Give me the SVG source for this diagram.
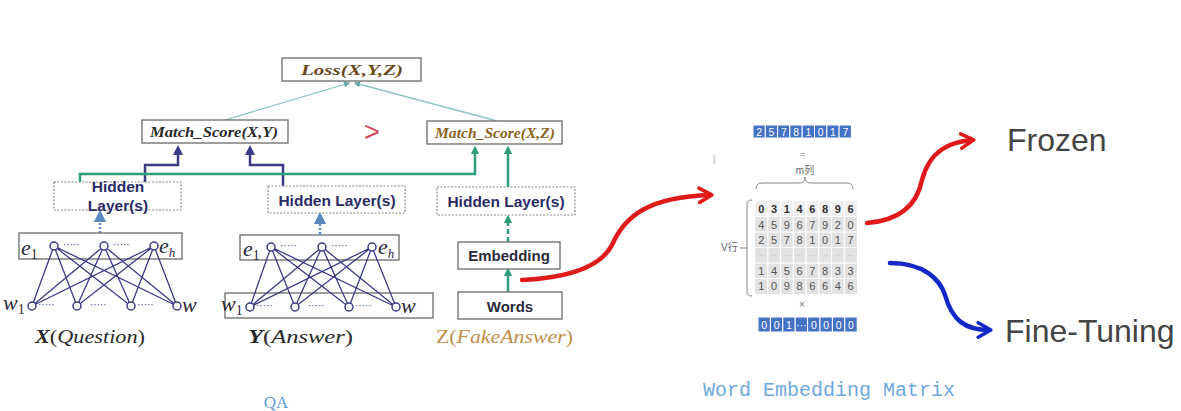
<svg xmlns="http://www.w3.org/2000/svg" width="1181" height="411" viewBox="0 0 1181 411">
<defs>
<style>
.box{fill:#fff;stroke:#6a6a6a;stroke-width:1.3}
.dbox{fill:#fff;stroke:#8a8a8a;stroke-width:1.2;stroke-dasharray:2 1.5}
.ms{font-family:"Liberation Serif",serif;font-weight:bold;font-style:italic;font-size:15px}
.hl{font-family:"Liberation Sans",sans-serif;font-weight:bold;font-size:15.5px;fill:#2b2b66;text-anchor:middle}
.bx{font-family:"Liberation Sans",sans-serif;font-weight:bold;font-size:15px;fill:#2a2a3a;text-anchor:middle}
.math{font-family:"Liberation Serif",serif;font-style:italic;font-size:22px;fill:#2a2a3a}
.lbl{font-family:"Liberation Serif",serif;font-size:19px;fill:#2a2a2a}
.dots{font-family:"Liberation Sans",sans-serif;font-size:10px;fill:#3b3b85}
.net{stroke:#3b3b85;stroke-width:1.3;fill:none}
.nd{fill:#fff;stroke:#3b3b85;stroke-width:1.5}
.pur{stroke:#3b3b85;stroke-width:2.5;fill:none}
.grn{stroke:#2e9e78;stroke-width:2.5;fill:none}
.teal{stroke:#8cc4c4;stroke-width:1.3;fill:none}
.cellb{fill:#4472c4;stroke:#fff;stroke-width:1}
.tw{font-family:"Liberation Sans",sans-serif;font-size:10.5px;fill:#fff;text-anchor:middle}
.tg{font-family:"Liberation Sans",sans-serif;font-size:11px;fill:#555;text-anchor:middle}
.big{font-family:"Liberation Sans",sans-serif;font-size:32px;fill:#444}
</style>
<marker id="ap" viewBox="0 0 10 10" refX="5" refY="5" markerWidth="4" markerHeight="4" orient="auto"><path d="M0,0 L10,5 L0,10 z" fill="#3b3b85"/></marker>
<marker id="ag" viewBox="0 0 10 10" refX="5" refY="5" markerWidth="3.5" markerHeight="3.5" orient="auto"><path d="M0,0 L10,5 L0,10 z" fill="#2e9e78"/></marker>
<marker id="ab" viewBox="0 0 10 10" refX="5" refY="5" markerWidth="5" markerHeight="5" orient="auto"><path d="M0,0 L10,5 L0,10 z" fill="#5a8ac0"/></marker>
<marker id="at" viewBox="0 0 10 10" refX="8" refY="5" markerWidth="5" markerHeight="5" orient="auto"><path d="M0,0 L10,5 L0,10 z" fill="#6aa8a8"/></marker>
<marker id="ar" viewBox="0 0 10 10" refX="7" refY="5" markerWidth="4" markerHeight="4" orient="auto"><path d="M1,1 L8,5 L1,9" fill="none" stroke="#e01a1a" stroke-width="2" stroke-linecap="round" stroke-linejoin="round"/></marker>
<marker id="abl" viewBox="0 0 10 10" refX="7" refY="5" markerWidth="4" markerHeight="4" orient="auto"><path d="M1,1 L8,5 L1,9" fill="none" stroke="#1428c8" stroke-width="2" stroke-linecap="round" stroke-linejoin="round"/></marker>
</defs>
<rect width="1181" height="411" fill="#fff"/>

<g id="connectors">
<line class="teal" x1="225" y1="120" x2="349" y2="83" marker-end="url(#at)"/>
<line class="teal" x1="497" y1="121" x2="355" y2="83" marker-end="url(#at)"/>
<polyline class="pur" points="145,182 145,165 178,165 178,150" marker-end="url(#ap)"/>
<polyline class="pur" points="283,186 283,165 250,165 250,150" marker-end="url(#ap)"/>
<polyline class="grn" points="80,183 80,174 475,174 475,150" marker-end="url(#ag)"/>
<line class="grn" x1="508" y1="187" x2="508" y2="150" marker-end="url(#ag)"/>
<line class="grn" x1="508" y1="242" x2="508" y2="219" stroke-dasharray="5 3" marker-end="url(#ag)"/>
<line class="grn" x1="508" y1="292" x2="508" y2="272" marker-end="url(#ag)"/>
<line x1="100" y1="233" x2="100" y2="216" stroke="#5a8ac0" stroke-width="2.5" stroke-dasharray="2 2" marker-end="url(#ab)"/>
<line x1="320" y1="234" x2="320" y2="218" stroke="#5a8ac0" stroke-width="2.5" stroke-dasharray="2 2" marker-end="url(#ab)"/>
<path d="M522,280 C565,278 600,268 612,245 C625,215 650,197 710,195" fill="none" stroke="#e01a1a" stroke-width="4.5" stroke-linecap="round" marker-end="url(#ar)"/>
<path d="M867,223 C905,220 918,200 922,180 C930,150 950,142 972,140" fill="none" stroke="#e01a1a" stroke-width="4.5" stroke-linecap="round" marker-end="url(#ar)"/>
<path d="M890,263 C925,263 940,280 945,295 C952,320 965,330 989,330" fill="none" stroke="#1428c8" stroke-width="4.5" stroke-linecap="round" marker-end="url(#abl)"/>
</g>

<g id="loss">
<rect class="box" x="282" y="58" width="139" height="23"/>
<text class="ms" x="352" y="75" text-anchor="middle" fill="#6b4a1a" textLength="102" lengthAdjust="spacingAndGlyphs">Loss(X,Y,Z)</text>
</g>
<g id="match-xy">
<rect class="box" x="142" y="120" width="146" height="23"/>
<text class="ms" x="150" y="137" fill="#2a2a2a" textLength="128" lengthAdjust="spacingAndGlyphs">Match_Score(X,Y)</text>
</g>
<g id="gt">
<text x="372" y="141" font-family="Liberation Sans,sans-serif" font-size="27" fill="#cc4a5a" text-anchor="middle">&gt;</text>
</g>
<g id="match-xz">
<rect class="box" x="427" y="121" width="135" height="23"/>
<text class="ms" x="435" y="138" fill="#8a6420" textLength="120" lengthAdjust="spacingAndGlyphs">Match_Score(X,Z)</text>
</g>

<g id="hidden-x">
<rect class="dbox" x="54" y="182" width="127" height="28"/>
<text class="hl" x="118" y="192">Hidden</text>
<text class="hl" x="118" y="211">Layer(s)</text>
</g>
<g id="hidden-y">
<rect class="dbox" x="268" y="186" width="137" height="27"/>
<text class="hl" x="337" y="206">Hidden Layer(s)</text>
</g>
<g id="hidden-z">
<rect class="dbox" x="437" y="187" width="138" height="28"/>
<text class="hl" x="506" y="207">Hidden Layer(s)</text>
</g>
<g id="embedding">
<rect class="box" x="458" y="242" width="102" height="27"/>
<text class="bx" x="509" y="261">Embedding</text>
</g>
<g id="words">
<rect class="box" x="458" y="292" width="104" height="27"/>
<text class="bx" x="510" y="312">Words</text>
</g>

<g id="net-x">
<rect x="19" y="233" width="163" height="26" style="fill:none;stroke:#6a6a6a;stroke-width:1.3"/>
<g class="net">
<path d="M54,246 L32,306 M54,246 L77,306 M54,246 L131,306 M54,246 L177,306 M104,246 L32,306 M104,246 L77,306 M104,246 L131,306 M104,246 L177,306 M154,246 L32,306 M154,246 L77,306 M154,246 L131,306 M154,246 L177,306"/>
</g>
<circle class="nd" cx="54" cy="246" r="4"/><circle class="nd" cx="104" cy="246" r="4"/><circle class="nd" cx="154" cy="246" r="4"/>
<circle class="nd" cx="32" cy="306" r="4"/><circle class="nd" cx="77" cy="306" r="4"/><circle class="nd" cx="131" cy="306" r="4"/><circle class="nd" cx="177" cy="306" r="4"/>
<text class="dots" x="63" y="248">·····</text><text class="dots" x="113" y="248">·····</text>
<text class="dots" x="38" y="308">·····</text><text class="dots" x="90" y="308">·····</text><text class="dots" x="137" y="308">·····</text>
<text class="math" x="21" y="255">e<tspan font-size="14" dy="4" font-style="normal">1</tspan></text>
<text class="math" x="159" y="253">e<tspan font-size="13" dy="4">h</tspan></text>
<text class="math" x="3" y="310">w<tspan font-size="14" dy="4" font-style="normal">1</tspan></text>
<text class="math" x="182" y="312">w</text>
<text class="lbl" x="35" y="343" textLength="110" lengthAdjust="spacingAndGlyphs"><tspan font-weight="bold" font-style="italic">X</tspan>(<tspan font-style="italic">Question</tspan>)</text>
</g>

<g id="net-y">
<rect x="240" y="235" width="159" height="25" style="fill:none;stroke:#6a6a6a;stroke-width:1.3"/>
<rect x="225" y="293" width="208" height="25" style="fill:none;stroke:#6a6a6a;stroke-width:1.3"/>
<g class="net">
<path d="M271,247 L250,307 M271,247 L295,307 M271,247 L349,307 M271,247 L396,307 M322,247 L250,307 M322,247 L295,307 M322,247 L349,307 M322,247 L396,307 M372,247 L250,307 M372,247 L295,307 M372,247 L349,307 M372,247 L396,307"/>
</g>
<circle class="nd" cx="271" cy="247" r="4"/><circle class="nd" cx="322" cy="247" r="4"/><circle class="nd" cx="372" cy="247" r="4"/>
<circle class="nd" cx="250" cy="307" r="4"/><circle class="nd" cx="295" cy="307" r="4"/><circle class="nd" cx="349" cy="307" r="4"/><circle class="nd" cx="396" cy="307" r="4"/>
<text class="dots" x="280" y="249">·····</text><text class="dots" x="331" y="249">·····</text>
<text class="dots" x="256" y="309">·····</text><text class="dots" x="308" y="309">·····</text><text class="dots" x="355" y="309">·····</text>
<text class="math" x="243" y="256">e<tspan font-size="14" dy="4" font-style="normal">1</tspan></text>
<text class="math" x="378" y="254">e<tspan font-size="13" dy="4">h</tspan></text>
<text class="math" x="221" y="311">w<tspan font-size="14" dy="4" font-style="normal">1</tspan></text>
<text class="math" x="401" y="313">w</text>
<text class="lbl" x="248" y="343" textLength="105" lengthAdjust="spacingAndGlyphs"><tspan font-weight="bold" font-style="italic">Y</tspan>(<tspan font-style="italic">Answer</tspan>)</text>
</g>

<g id="label-z">
<text class="lbl" x="436" y="343" style="fill:#c0904a" textLength="137" lengthAdjust="spacingAndGlyphs">Z(<tspan font-style="italic">FakeAnswer</tspan>)</text>
</g>

<g id="label-qa">
<text x="276" y="408" font-family="Liberation Serif,serif" font-size="17" fill="#5b9bd5" text-anchor="middle">QA</text>
</g>

<g id="matrix">
<g id="top-row">
<rect class="cellb" x="753" y="125" width="12.3" height="13"/><rect class="cellb" x="765.3" y="125" width="12.3" height="13"/><rect class="cellb" x="777.6" y="125" width="12.3" height="13"/><rect class="cellb" x="789.9" y="125" width="12.3" height="13"/><rect class="cellb" x="802.2" y="125" width="12.3" height="13"/><rect class="cellb" x="814.5" y="125" width="12.3" height="13"/><rect class="cellb" x="826.8" y="125" width="12.3" height="13"/><rect class="cellb" x="839.1" y="125" width="12.3" height="13"/>
<text class="tw" y="135.5"><tspan x="759.2">2</tspan><tspan x="771.5">5</tspan><tspan x="783.8">7</tspan><tspan x="796.1">8</tspan><tspan x="808.4">1</tspan><tspan x="820.7">0</tspan><tspan x="833">1</tspan><tspan x="845.3">7</tspan></text>
</g>
<text x="803" y="157" font-family="Liberation Sans,sans-serif" font-size="9" fill="#777" text-anchor="middle">=</text>
<text x="805" y="174" font-family="Liberation Sans,'Noto Sans CJK SC',sans-serif" font-size="10" fill="#666" text-anchor="middle">m列</text>
<path d="M756,189 Q756,183 762,183 L799,183 Q805,183 805,177 Q805,183 811,183 L847,183 Q853,183 853,189" fill="none" stroke="#888" stroke-width="1"/>
<text x="713" y="162" font-family="Liberation Sans,sans-serif" font-size="9" fill="#aaa">|</text>
<path d="M752,200 Q747,200 747,204 L747,292 Q747,296 752,296" fill="none" stroke="#888" stroke-width="1"/>
<line x1="740" y1="248" x2="747" y2="248" stroke="#888" stroke-width="1"/>
<text x="721" y="251" font-family="Liberation Sans,'Noto Sans CJK SC',sans-serif" font-size="10" fill="#666">V行</text>
<g id="grid">
<rect x="755" y="201" width="102" height="93" fill="#e2e2e2"/>
<rect x="755" y="201" width="102" height="15.5" fill="#efefef"/>
<path d="M767.75,201 V294 M780.5,201 V294 M793.25,201 V294 M806,201 V294 M818.75,201 V294 M831.5,201 V294 M844.25,201 V294 M755,216.5 H857 M755,232 H857 M755,247.5 H857 M755,263 H857 M755,278.5 H857" stroke="#fff" stroke-width="1.2"/>
<text class="tg" y="213" font-weight="bold" style="fill:#333"><tspan x="761.4">0</tspan><tspan x="774.1">3</tspan><tspan x="786.9">1</tspan><tspan x="799.6">4</tspan><tspan x="812.4">6</tspan><tspan x="825.1">8</tspan><tspan x="837.9">9</tspan><tspan x="850.6">6</tspan></text>
<text class="tg" y="228.5"><tspan x="761.4">4</tspan><tspan x="774.1">5</tspan><tspan x="786.9">9</tspan><tspan x="799.6">6</tspan><tspan x="812.4">7</tspan><tspan x="825.1">9</tspan><tspan x="837.9">2</tspan><tspan x="850.6">0</tspan></text>
<text class="tg" y="244"><tspan x="761.4">2</tspan><tspan x="774.1">5</tspan><tspan x="786.9">7</tspan><tspan x="799.6">8</tspan><tspan x="812.4">1</tspan><tspan x="825.1">0</tspan><tspan x="837.9">1</tspan><tspan x="850.6">7</tspan></text>
<text class="tg" y="257" style="font-size:6px;fill:#999"><tspan x="761.4">···</tspan><tspan x="774.1">···</tspan><tspan x="786.9">···</tspan><tspan x="799.6">···</tspan><tspan x="812.4">···</tspan><tspan x="825.1">···</tspan><tspan x="837.9">···</tspan><tspan x="850.6">···</tspan></text>
<text class="tg" y="274.5"><tspan x="761.4">1</tspan><tspan x="774.1">4</tspan><tspan x="786.9">5</tspan><tspan x="799.6">6</tspan><tspan x="812.4">7</tspan><tspan x="825.1">8</tspan><tspan x="837.9">3</tspan><tspan x="850.6">3</tspan></text>
<text class="tg" y="290"><tspan x="761.4">1</tspan><tspan x="774.1">0</tspan><tspan x="786.9">9</tspan><tspan x="799.6">8</tspan><tspan x="812.4">6</tspan><tspan x="825.1">6</tspan><tspan x="837.9">4</tspan><tspan x="850.6">6</tspan></text>
</g>
<text x="802" y="308" font-family="Liberation Sans,sans-serif" font-size="10" fill="#777" text-anchor="middle">×</text>
<g id="bottom-row">
<rect class="cellb" x="758" y="317" width="12.4" height="15"/><rect class="cellb" x="770.4" y="317" width="12.4" height="15"/><rect class="cellb" x="782.8" y="317" width="12.4" height="15"/><rect class="cellb" x="795.2" y="317" width="12.4" height="15"/><rect class="cellb" x="807.6" y="317" width="12.4" height="15"/><rect class="cellb" x="820" y="317" width="12.4" height="15"/><rect class="cellb" x="832.4" y="317" width="12.4" height="15"/><rect class="cellb" x="844.8" y="317" width="12.4" height="15"/>
<text class="tw" y="328.5"><tspan x="764.2">0</tspan><tspan x="776.6">0</tspan><tspan x="789">1</tspan><tspan x="801.4">···</tspan><tspan x="813.8">0</tspan><tspan x="826.2">0</tspan><tspan x="838.6">0</tspan><tspan x="851">0</tspan></text>
</g>
</g>

<g id="label-wem">
<text x="703" y="396" font-family="Liberation Mono,monospace" font-size="20" fill="#6fa8dc">Word Embedding Matrix</text>
</g>
<g id="frozen">
<text class="big" x="1007" y="151">Frozen</text>
</g>
<g id="finetuning">
<text class="big" x="1005" y="342">Fine-Tuning</text>
</g>
</svg>
